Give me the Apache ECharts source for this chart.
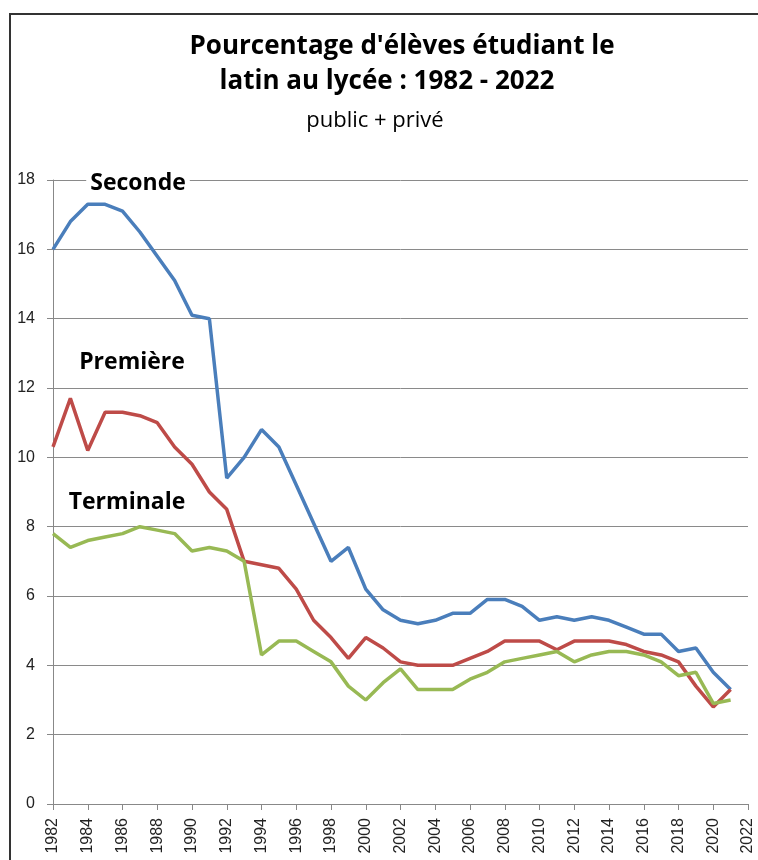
<!DOCTYPE html>
<html>
<head>
<meta charset="utf-8">
<script src="https://cdn.jsdelivr.net/npm/echarts@6/dist/echarts.min.js"></script>
<style>html,body{margin:0;padding:0;background:#fff}#c{width:758px;height:860px}</style>
</head>
<body>
<div id="c"></div>
<script>
var years = [1982,1983,1984,1985,1986,1987,1988,1989,1990,1991,1992,1993,1994,1995,1996,1997,1998,1999,2000,2001,2002,2003,2004,2005,2006,2007,2008,2009,2010,2011,2012,2013,2014,2015,2016,2017,2018,2019,2020,2021];
var seconde = [16.0,16.8,17.3,17.3,17.1,16.5,15.8,15.1,14.1,14.0,9.4,10.0,10.8,10.3,9.2,8.1,7.0,7.4,6.2,5.6,5.3,5.2,5.3,5.5,5.5,5.9,5.9,5.7,5.3,5.4,5.3,5.4,5.3,5.1,4.9,4.9,4.4,4.5,3.8,3.3];
var premiere = [10.3,11.7,10.2,11.3,11.3,11.2,11.0,10.3,9.8,9.0,8.5,7.0,6.9,6.8,6.2,5.3,4.8,4.2,4.8,4.5,4.1,4.0,4.0,4.0,4.2,4.4,4.7,4.7,4.7,4.45,4.7,4.7,4.7,4.6,4.4,4.3,4.1,3.4,2.8,3.3];
var terminale = [7.8,7.4,7.6,7.7,7.8,8.0,7.9,7.8,7.3,7.4,7.3,7.0,4.3,4.7,4.7,4.4,4.1,3.4,3.0,3.5,3.9,3.3,3.3,3.3,3.6,3.8,4.1,4.2,4.3,4.4,4.1,4.3,4.4,4.4,4.3,4.1,3.7,3.8,2.9,3.0];
var seriesNames = ['Seconde','Première','Terminale'];
var titleLines = ["Pourcentage d'élèves étudiant le", "latin au lycée : 1982 - 2022"];
var subtitle = 'public + privé';

function pairs(v){ return years.map(function(y,i){ return [y, v[i]]; }); }

var chart = echarts.init(document.getElementById('c'), null, {renderer:'canvas'});
var font = '"Open Sans", "Noto Sans", sans-serif';
var axFont = '"Liberation Sans", Arial, sans-serif';
function lbl(text, x, y){
  return {type:'text', x:x, y:y, z:100, style:{text:text, font:'bold 23px ' + font, fill:'#000', backgroundColor:'#fff', padding:[0,4], align:'center', verticalAlign:'middle'}};
}
function ttl(text, x, y, f){
  return {type:'text', x:x, y:y, z:100, style:{text:text, font:f, fill:'#000', align:'center', verticalAlign:'middle'}};
}
chart.setOption({
  animation:false,
  backgroundColor:'#fff',
  grid:{left:53, right:10, top:180, bottom:56, containLabel:false},
  xAxis:{type:'value', min:1982, max:2022, interval:2,
    axisLine:{show:true, lineStyle:{color:'#888', width:1}},
    axisTick:{show:true, length:6, lineStyle:{color:'#888'}},
    axisLabel:{rotate:90, color:'#222', fontSize:16, fontFamily:axFont, margin:14,
      formatter:function(v){ return String(v); }},
    splitLine:{show:false}},
  yAxis:{type:'value', min:0, max:18, interval:2,
    axisLine:{show:true, lineStyle:{color:'#888', width:1}},
    axisTick:{show:true, length:6, lineStyle:{color:'#888'}},
    axisLabel:{color:'#222', fontSize:16, fontFamily:axFont, margin:18},
    splitLine:{show:true, lineStyle:{color:'#8a8a8a', width:1}}},
  series:[
    {name:seriesNames[0], type:'line', data:pairs(seconde), showSymbol:false, lineStyle:{color:'#4A7EBB', width:3.5}, itemStyle:{color:'#4A7EBB'}},
    {name:seriesNames[1], type:'line', data:pairs(premiere), showSymbol:false, lineStyle:{color:'#BE4B48', width:3.5}, itemStyle:{color:'#BE4B48'}},
    {name:seriesNames[2], type:'line', data:pairs(terminale), showSymbol:false, lineStyle:{color:'#98B954', width:3.5}, itemStyle:{color:'#98B954'}}
  ],
  graphic:[
    {type:'rect', x:10, y:14, z:-1, shape:{x:0,y:0,width:780,height:900}, style:{fill:'none', stroke:'#333', lineWidth:2}},
    ttl(titleLines[0], 402, 47, 'bold 26px ' + font),
    ttl(titleLines[1], 387, 82, 'bold 26px ' + font),
    ttl(subtitle, 375, 121, '22px ' + font),
    lbl(seriesNames[0], 138, 183),
    lbl(seriesNames[1], 132, 362),
    lbl(seriesNames[2], 127, 502)
  ]
});
</script>
</body>
</html>
